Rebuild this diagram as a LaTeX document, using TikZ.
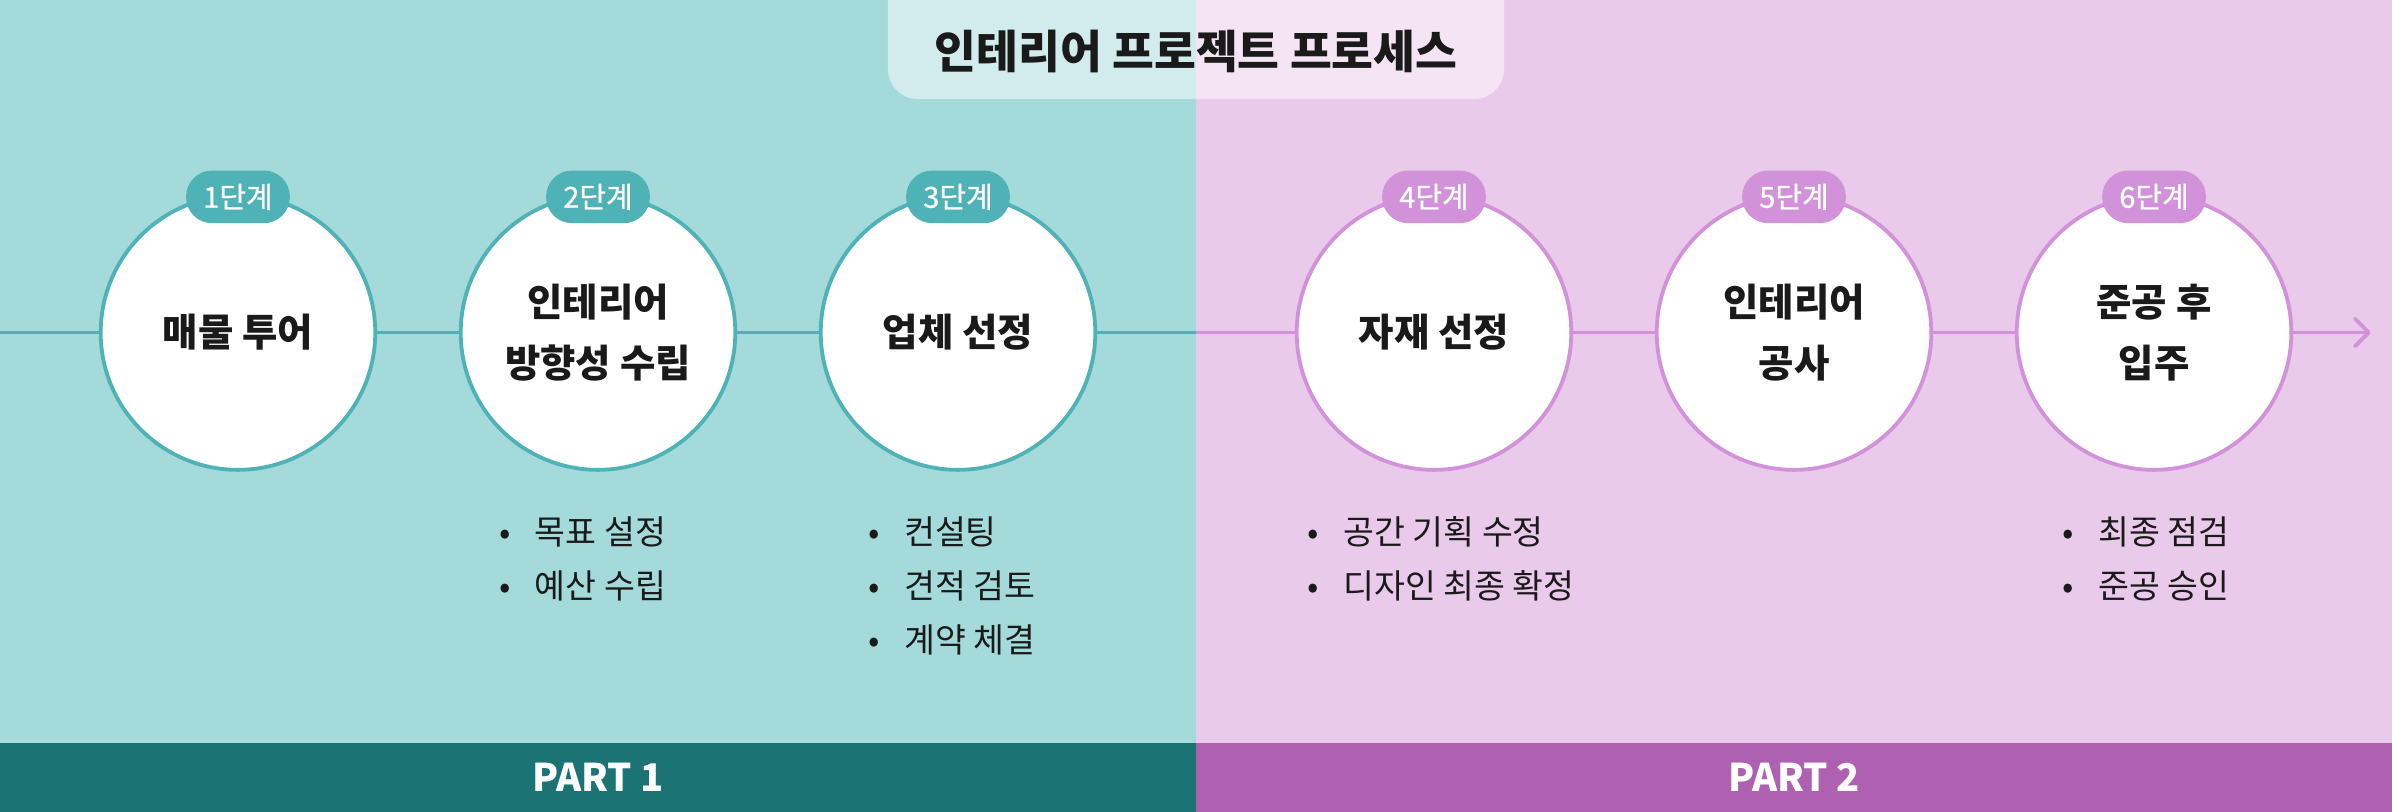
\documentclass[tikz,border=0pt]{standalone}
\usepackage{fontspec}
\setmainfont{Noto Sans CJK KR}
\newfontfamily\badgefont{Noto Sans CJK KR}[FakeBold=0.8]
\usetikzlibrary{arrows.meta}
\definecolor{tealbg}{HTML}{A5DADB}
\definecolor{plumbg}{HTML}{E9CAEA}
\definecolor{tealmain}{HTML}{4FB2B6}
\definecolor{plummain}{HTML}{D292DA}
\definecolor{tealdeep}{HTML}{1B7373}
\definecolor{plumdeep}{HTML}{AE61B0}
\definecolor{ink}{HTML}{1A1A1A}
\begin{document}
\begin{tikzpicture}[x=1pt,y=1pt,
    stage/.style={circle,draw=#1,fill=white,line width=2.5pt,minimum size=180pt,inner sep=0pt,
      align=center,text=ink,font=\fontsize{25.2}{40}\selectfont\bfseries},
    badge/.style={fill=#1,rounded corners=17pt,minimum width=68pt,minimum height=34.5pt,inner sep=0pt,
      text=white,font=\fontsize{19}{19}\selectfont\badgefont},
    note/.style={anchor=west,inner sep=0pt,text=ink,font=\fontsize{22}{22}\selectfont},
    part/.style={text=white,font=\fontsize{25}{25}\selectfont\bfseries},
    link/.style={draw=#1,line width=2.5pt}]
  \useasboundingbox (0,0) rectangle (1568,-532);
  \def\midline{-218}
  \def\rowgap{35.5}

  \fill[tealbg] (0,0) rectangle (784,-532);
  \fill[plumbg] (784,0) rectangle (1568,-532);
  \fill[tealdeep] (0,-487) rectangle (784,-532);
  \fill[plumdeep] (784,-487) rectangle (1568,-532);

  \begin{scope}
    \clip (0,0) rectangle (1568,-532);
    \fill[white,fill opacity=0.5,rounded corners=20pt] (582,30) rectangle (986,-65);
  \end{scope}
  \node[text=ink,font=\fontsize{29.8}{30}\selectfont\bfseries] (title) at (784,-34) {인테리어 프로젝트 프로세스};

  \coordinate (start) at (0,\midline);
  \coordinate (half) at (784,\midline);
  \coordinate (end) at (1554,\midline);

  \foreach \i/\x/\c/\txt in {1/156/tealmain/매물 투어, 2/392/tealmain/{인테리어\\방향성 수립},
      3/628/tealmain/업체 선정, 4/940/plummain/자재 선정, 5/1176/plummain/{인테리어\\공사},
      6/1412/plummain/{준공 후\\입주}} {
    \node[stage=\c] (s\i) at (\x,\midline) {\txt};
    \node[badge=\c] (b\i) at ([yshift=-2.3pt]s\i.north) {\i{}단계};
  }

  \draw[link=tealmain] (start) -- (s1);
  \draw[link=tealmain] (s1) -- (s2);
  \draw[link=tealmain] (s2) -- (s3);
  \draw[link=tealmain] (s3) -- (half);
  \draw[link=plummain] (half) -- (s4);
  \draw[link=plummain] (s4) -- (s5);
  \draw[link=plummain] (s5) -- (s6);
  \draw[link=plummain,line cap=round,-{Straight Barb[length=9pt,width=18pt,round]}] (s6) -- (end);

  \foreach \k/\t in {0/목표 설정, 1/예산 수립}
    \node[note] (n2-\k) at (327,-348.5-\rowgap*\k) {\makebox[23.5pt][l]{•}\t};
  \foreach \k/\t in {0/컨설팅, 1/견적 검토, 2/계약 체결}
    \node[note] (n3-\k) at (569,-348.5-\rowgap*\k) {\makebox[23.5pt][l]{•}\t};
  \foreach \k/\t in {0/공간 기획 수정, 1/디자인 최종 확정}
    \node[note] (n4-\k) at (857,-348.5-\rowgap*\k) {\makebox[23.5pt][l]{•}\t};
  \foreach \k/\t in {0/최종 점검, 1/준공 승인}
    \node[note] (n6-\k) at (1352,-348.5-\rowgap*\k) {\makebox[23.5pt][l]{•}\t};

  \node[part] (p1) at (392,-509.5) {PART 1};
  \node[part] (p2) at (1176,-509.5) {PART 2};
\end{tikzpicture}
\end{document}
